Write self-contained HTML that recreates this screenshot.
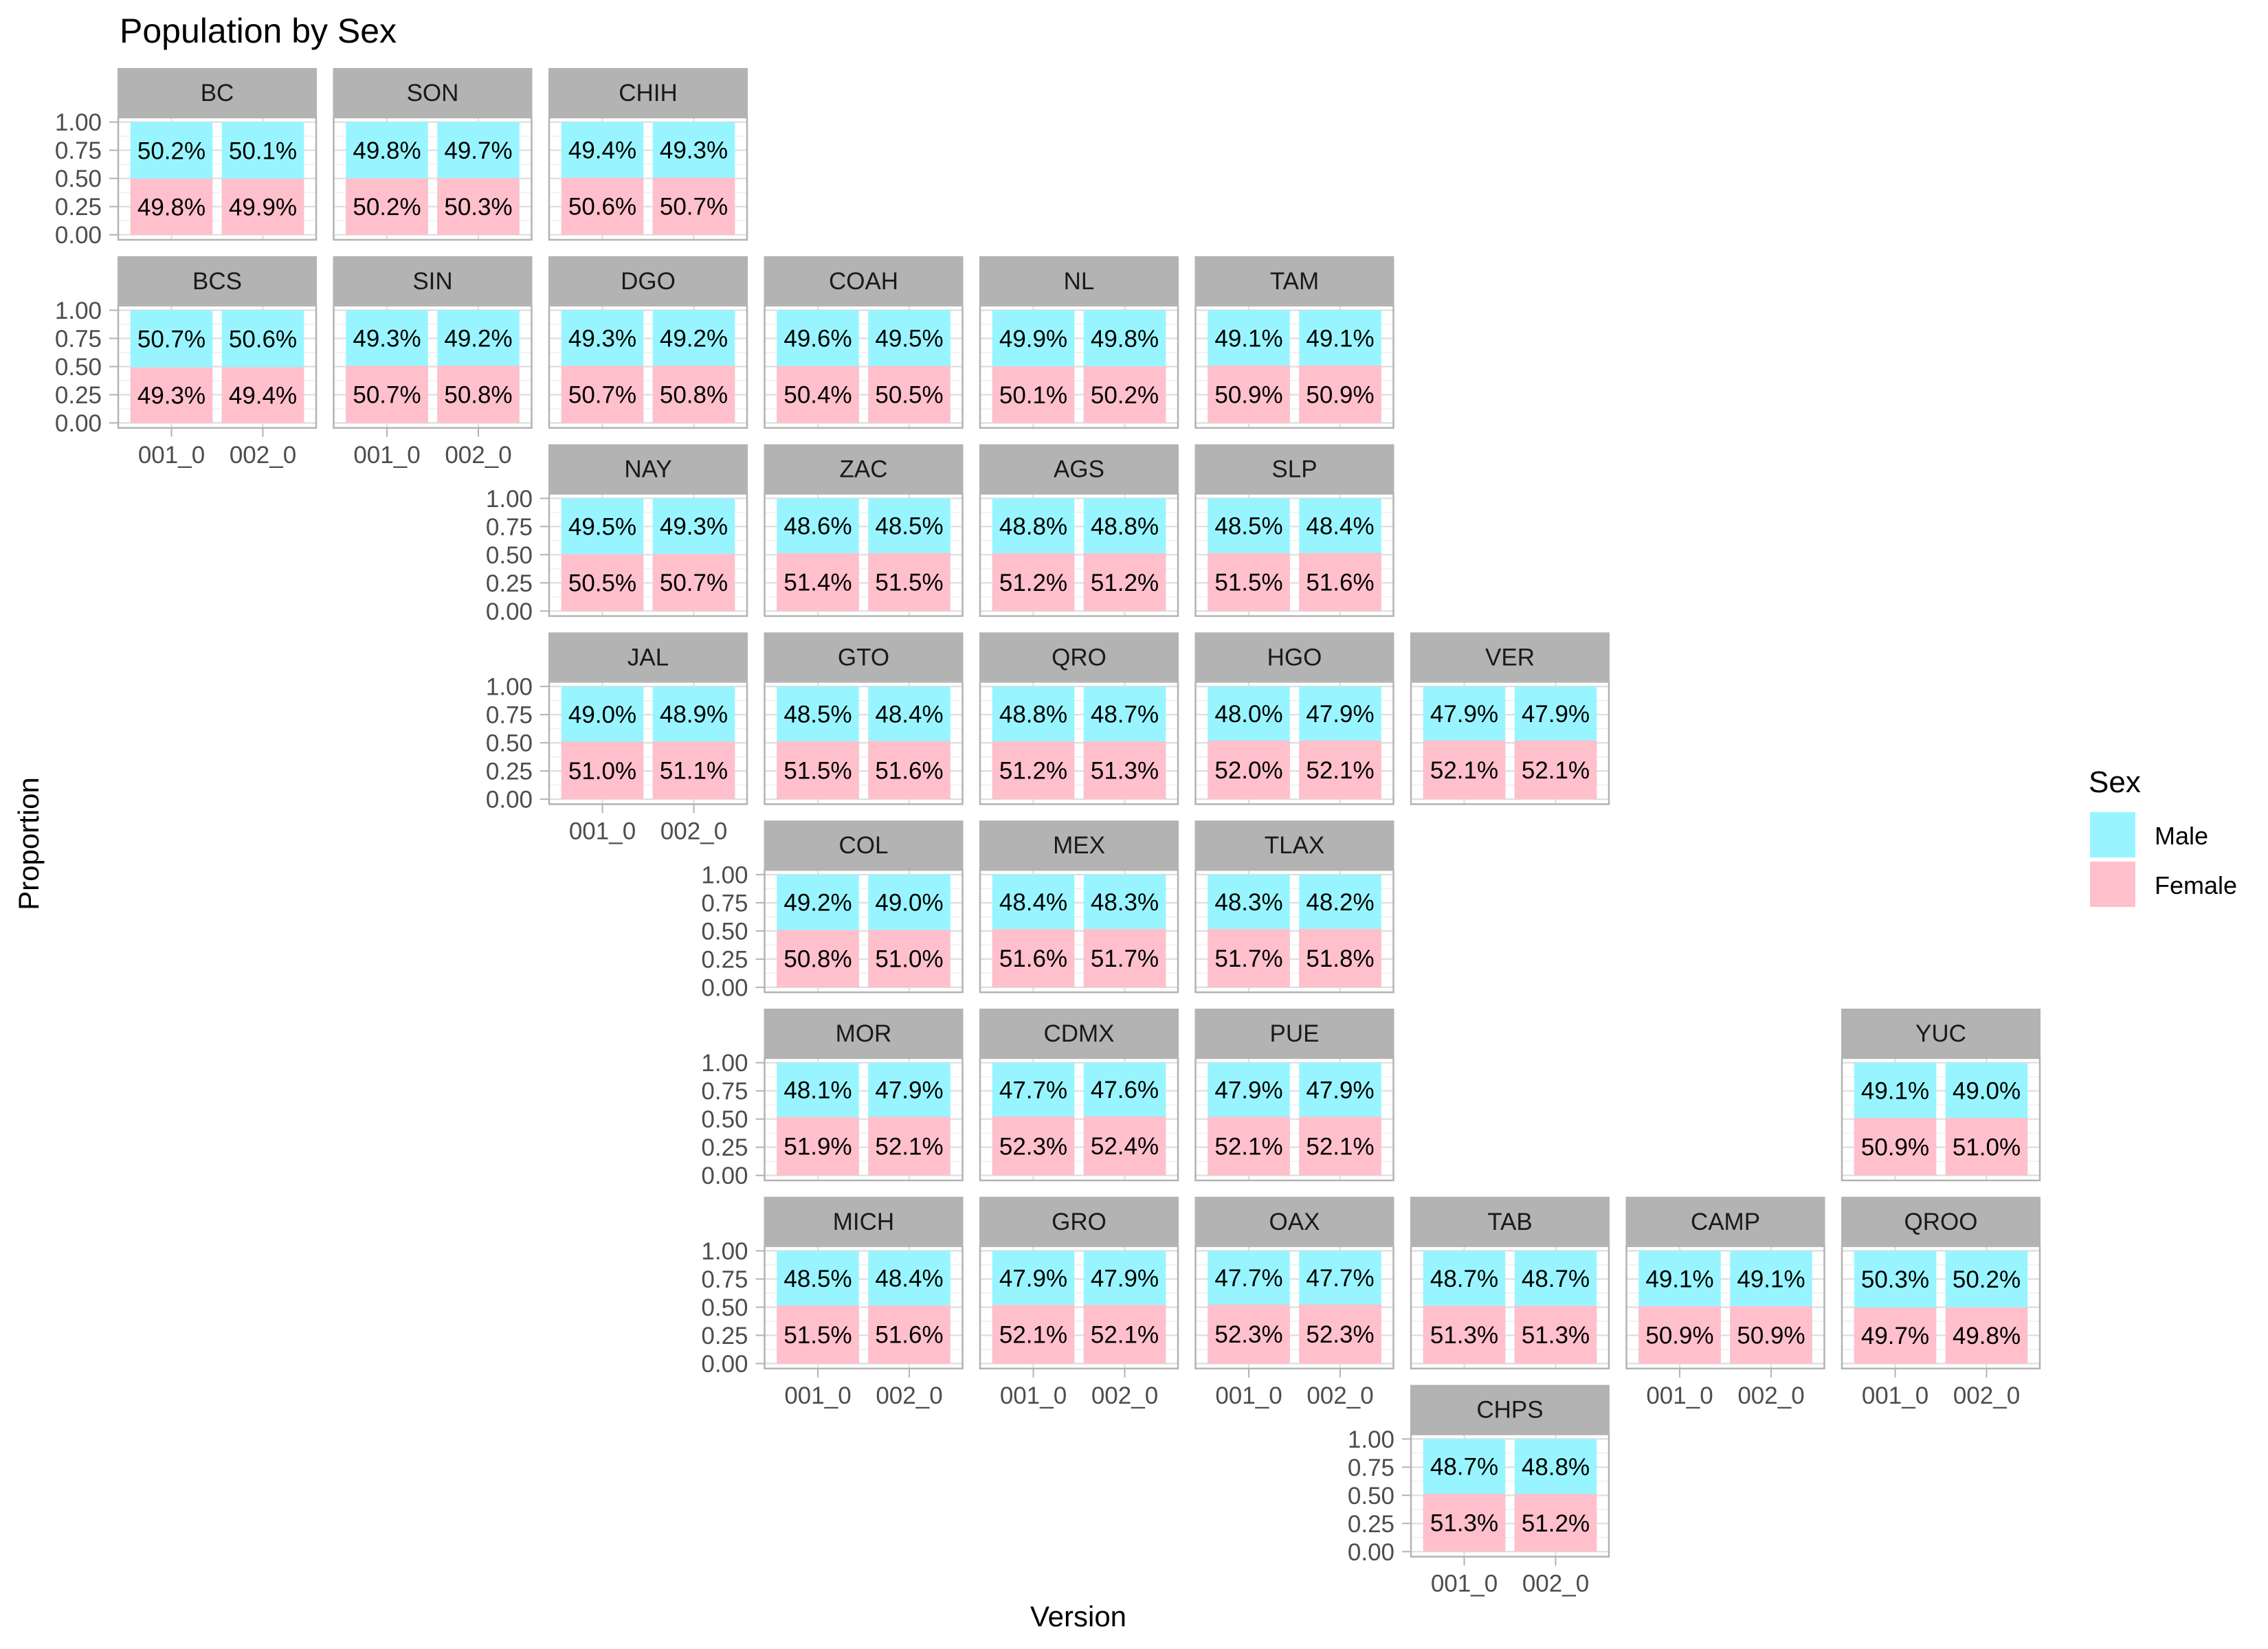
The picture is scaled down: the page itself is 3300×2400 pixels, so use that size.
<!DOCTYPE html>
<html><head><meta charset="utf-8"><style>
html,body{margin:0;padding:0;background:#fff;}
svg{display:block;font-family:"Liberation Sans",Arial,sans-serif;}
.st{font-size:35px;fill:#1a1a1a;text-anchor:middle;}
.bl{font-size:35px;fill:#000;text-anchor:middle;}
.ax{font-size:35px;fill:#4d4d4d;}
</style></head><body>
<svg width="3300" height="2400" viewBox="0 0 3300 2400" xmlns="http://www.w3.org/2000/svg">
<defs>
<g id="pg">
<rect x="0" y="0" width="290" height="71" fill="#b3b3b3"/>
<rect x="0" y="71" width="290" height="180" fill="#fff"/>
<g stroke="#ebebeb" stroke-width="1.2">
<line x1="1" x2="289" y1="222.2" y2="222.2"/><line x1="1" x2="289" y1="181.2" y2="181.2"/><line x1="1" x2="289" y1="140.2" y2="140.2"/><line x1="1" x2="289" y1="99.2" y2="99.2"/>
</g>
<g stroke="#dedede" stroke-width="2.2">
<line x1="1" x2="289" y1="242.7" y2="242.7"/><line x1="1" x2="289" y1="201.7" y2="201.7"/><line x1="1" x2="289" y1="160.7" y2="160.7"/><line x1="1" x2="289" y1="119.7" y2="119.7"/><line x1="1" x2="289" y1="78.7" y2="78.7"/>
<line x1="78.5" x2="78.5" y1="72" y2="250"/><line x1="211.5" x2="211.5" y1="72" y2="250"/>
</g>
<rect x="18.7" y="78.7" width="119.6" height="164" fill="#98F5FF"/>
<rect x="151.7" y="78.7" width="119.6" height="164" fill="#98F5FF"/>
<rect x="1" y="72" width="288" height="178" fill="none" stroke="#b3b3b3" stroke-width="2.5"/>
</g>
<g id="yt" stroke="#b3b3b3" stroke-width="2">
<line x1="-12" x2="0" y1="78.7" y2="78.7"/><line x1="-12" x2="0" y1="119.7" y2="119.7"/><line x1="-12" x2="0" y1="160.7" y2="160.7"/><line x1="-12" x2="0" y1="201.7" y2="201.7"/><line x1="-12" x2="0" y1="242.7" y2="242.7"/>
</g>
<g id="xt" stroke="#b3b3b3" stroke-width="2">
<line x1="78.5" x2="78.5" y1="251" y2="263"/><line x1="211.5" x2="211.5" y1="251" y2="263"/>
</g>
</defs>

<text x="174" y="62" font-size="50" fill="#000">Population by Sex</text>
<text transform="translate(56,1228) rotate(-90)" font-size="42" fill="#000" text-anchor="middle">Proportion</text>
<text x="1569" y="2367" font-size="42" fill="#000" text-anchor="middle">Version</text>

<text x="3039" y="1153" font-size="44" fill="#000">Sex</text>
<rect x="3041" y="1182" width="66" height="66" fill="#98F5FF"/>
<rect x="3041" y="1254" width="66" height="66" fill="#FFC0CB"/>
<text x="3135" y="1229" font-size="36" fill="#000">Male</text>
<text x="3135" y="1301" font-size="36" fill="#000">Female</text>

<!-- Y axis label groups -->
<g id="yl0" class="ax" text-anchor="end"></g>

<!-- Panels -->
<!-- BC -->
<g transform="translate(171,99)"><use href="#pg"/>
<rect x="18.7" y="161.0" width="119.6" height="81.7" fill="#FFC0CB"/><rect x="151.7" y="160.9" width="119.6" height="81.8" fill="#FFC0CB"/>
<text class="st" x="145" y="48">BC</text>
<text class="bl" x="78.5" y="132.4">50.2%</text><text class="bl" x="211.5" y="132.3">50.1%</text>
<text class="bl" x="78.5" y="214.4">49.8%</text><text class="bl" x="211.5" y="214.3">49.9%</text>
<use href="#yt"/><g class="ax" text-anchor="end"><text x="-23" y="91.2">1.00</text><text x="-23" y="132.2">0.75</text><text x="-23" y="173.2">0.50</text><text x="-23" y="214.2">0.25</text><text x="-23" y="255.2">0.00</text></g>
</g>
<!-- SON -->
<g transform="translate(484.5,99)"><use href="#pg"/>
<rect x="18.7" y="160.4" width="119.6" height="82.3" fill="#FFC0CB"/><rect x="151.7" y="160.2" width="119.6" height="82.5" fill="#FFC0CB"/>
<text class="st" x="145" y="48">SON</text>
<text class="bl" x="78.5" y="132.0">49.8%</text><text class="bl" x="211.5" y="132.0">49.7%</text>
<text class="bl" x="78.5" y="214.0">50.2%</text><text class="bl" x="211.5" y="214.0">50.3%</text>
</g>
<!-- CHIH -->
<g transform="translate(798,99)"><use href="#pg"/>
<rect x="18.7" y="159.7" width="119.6" height="83.0" fill="#FFC0CB"/><rect x="151.7" y="159.6" width="119.6" height="83.1" fill="#FFC0CB"/>
<text class="st" x="145" y="48">CHIH</text>
<text class="bl" x="78.5" y="131.7">49.4%</text><text class="bl" x="211.5" y="131.6">49.3%</text>
<text class="bl" x="78.5" y="213.7">50.6%</text><text class="bl" x="211.5" y="213.6">50.7%</text>
</g>

<!-- Row 1 -->
<!-- BCS -->
<g transform="translate(171,372.8)"><use href="#pg"/>
<rect x="18.7" y="161.9" width="119.6" height="80.8" fill="#FFC0CB"/><rect x="151.7" y="161.7" width="119.6" height="81.0" fill="#FFC0CB"/>
<text class="st" x="145" y="48">BCS</text>
<text class="bl" x="78.5" y="132.8">50.7%</text><text class="bl" x="211.5" y="132.7">50.6%</text>
<text class="bl" x="78.5" y="214.8">49.3%</text><text class="bl" x="211.5" y="214.7">49.4%</text>
<use href="#yt"/><g class="ax" text-anchor="end"><text x="-23" y="91.2">1.00</text><text x="-23" y="132.2">0.75</text><text x="-23" y="173.2">0.50</text><text x="-23" y="214.2">0.25</text><text x="-23" y="255.2">0.00</text></g>
<use href="#xt"/><g class="ax" text-anchor="middle"><text x="78.5" y="301">001_0</text><text x="211.5" y="301">002_0</text></g>
</g>
<!-- SIN -->
<g transform="translate(484.5,372.8)"><use href="#pg"/>
<rect x="18.7" y="159.6" width="119.6" height="83.1" fill="#FFC0CB"/><rect x="151.7" y="159.4" width="119.6" height="83.3" fill="#FFC0CB"/>
<text class="st" x="145" y="48">SIN</text>
<text class="bl" x="78.5" y="131.6">49.3%</text><text class="bl" x="211.5" y="131.5">49.2%</text>
<text class="bl" x="78.5" y="213.6">50.7%</text><text class="bl" x="211.5" y="213.5">50.8%</text>
<use href="#xt"/><g class="ax" text-anchor="middle"><text x="78.5" y="301">001_0</text><text x="211.5" y="301">002_0</text></g>
</g>
<!-- DGO -->
<g transform="translate(798,372.8)"><use href="#pg"/>
<rect x="18.7" y="159.6" width="119.6" height="83.1" fill="#FFC0CB"/><rect x="151.7" y="159.4" width="119.6" height="83.3" fill="#FFC0CB"/>
<text class="st" x="145" y="48">DGO</text>
<text class="bl" x="78.5" y="131.6">49.3%</text><text class="bl" x="211.5" y="131.5">49.2%</text>
<text class="bl" x="78.5" y="213.6">50.7%</text><text class="bl" x="211.5" y="213.5">50.8%</text>
</g>
<!-- COAH -->
<g transform="translate(1111.5,372.8)"><use href="#pg"/>
<rect x="18.7" y="160.0" width="119.6" height="82.7" fill="#FFC0CB"/><rect x="151.7" y="159.9" width="119.6" height="82.8" fill="#FFC0CB"/>
<text class="st" x="145" y="48">COAH</text>
<text class="bl" x="78.5" y="131.9">49.6%</text><text class="bl" x="211.5" y="131.8">49.5%</text>
<text class="bl" x="78.5" y="213.9">50.4%</text><text class="bl" x="211.5" y="213.8">50.5%</text>
</g>
<!-- NL -->
<g transform="translate(1425,372.8)"><use href="#pg"/>
<rect x="18.7" y="160.5" width="119.6" height="82.2" fill="#FFC0CB"/><rect x="151.7" y="160.4" width="119.6" height="82.3" fill="#FFC0CB"/>
<text class="st" x="145" y="48">NL</text>
<text class="bl" x="78.5" y="132.1">49.9%</text><text class="bl" x="211.5" y="132.0">49.8%</text>
<text class="bl" x="78.5" y="214.1">50.1%</text><text class="bl" x="211.5" y="214.0">50.2%</text>
</g>
<!-- TAM -->
<g transform="translate(1738.5,372.8)"><use href="#pg"/>
<rect x="18.7" y="159.2" width="119.6" height="83.5" fill="#FFC0CB"/><rect x="151.7" y="159.2" width="119.6" height="83.5" fill="#FFC0CB"/>
<text class="st" x="145" y="48">TAM</text>
<text class="bl" x="78.5" y="131.5">49.1%</text><text class="bl" x="211.5" y="131.5">49.1%</text>
<text class="bl" x="78.5" y="213.5">50.9%</text><text class="bl" x="211.5" y="213.5">50.9%</text>
</g>

<!-- Row 2 -->
<!-- NAY -->
<g transform="translate(798,646.6)"><use href="#pg"/>
<rect x="18.7" y="159.9" width="119.6" height="82.8" fill="#FFC0CB"/><rect x="151.7" y="159.6" width="119.6" height="83.1" fill="#FFC0CB"/>
<text class="st" x="145" y="48">NAY</text>
<text class="bl" x="78.5" y="131.8">49.5%</text><text class="bl" x="211.5" y="131.6">49.3%</text>
<text class="bl" x="78.5" y="213.8">50.5%</text><text class="bl" x="211.5" y="213.6">50.7%</text>
<use href="#yt"/><g class="ax" text-anchor="end"><text x="-23" y="91.2">1.00</text><text x="-23" y="132.2">0.75</text><text x="-23" y="173.2">0.50</text><text x="-23" y="214.2">0.25</text><text x="-23" y="255.2">0.00</text></g>
</g>
<!-- ZAC -->
<g transform="translate(1111.5,646.6)"><use href="#pg"/>
<rect x="18.7" y="158.4" width="119.6" height="84.3" fill="#FFC0CB"/><rect x="151.7" y="158.2" width="119.6" height="84.5" fill="#FFC0CB"/>
<text class="st" x="145" y="48">ZAC</text>
<text class="bl" x="78.5" y="131.1">48.6%</text><text class="bl" x="211.5" y="131.0">48.5%</text>
<text class="bl" x="78.5" y="213.1">51.4%</text><text class="bl" x="211.5" y="213.0">51.5%</text>
</g>
<!-- AGS -->
<g transform="translate(1425,646.6)"><use href="#pg"/>
<rect x="18.7" y="158.7" width="119.6" height="84.0" fill="#FFC0CB"/><rect x="151.7" y="158.7" width="119.6" height="84.0" fill="#FFC0CB"/>
<text class="st" x="145" y="48">AGS</text>
<text class="bl" x="78.5" y="131.2">48.8%</text><text class="bl" x="211.5" y="131.2">48.8%</text>
<text class="bl" x="78.5" y="213.2">51.2%</text><text class="bl" x="211.5" y="213.2">51.2%</text>
</g>
<!-- SLP -->
<g transform="translate(1738.5,646.6)"><use href="#pg"/>
<rect x="18.7" y="158.2" width="119.6" height="84.5" fill="#FFC0CB"/><rect x="151.7" y="158.1" width="119.6" height="84.6" fill="#FFC0CB"/>
<text class="st" x="145" y="48">SLP</text>
<text class="bl" x="78.5" y="131.0">48.5%</text><text class="bl" x="211.5" y="130.9">48.4%</text>
<text class="bl" x="78.5" y="213.0">51.5%</text><text class="bl" x="211.5" y="212.9">51.6%</text>
</g>

<!-- Row 3 -->
<!-- JAL -->
<g transform="translate(798,920.4)"><use href="#pg"/>
<rect x="18.7" y="159.1" width="119.6" height="83.6" fill="#FFC0CB"/><rect x="151.7" y="158.9" width="119.6" height="83.8" fill="#FFC0CB"/>
<text class="st" x="145" y="48">JAL</text>
<text class="bl" x="78.5" y="131.4">49.0%</text><text class="bl" x="211.5" y="131.3">48.9%</text>
<text class="bl" x="78.5" y="213.4">51.0%</text><text class="bl" x="211.5" y="213.3">51.1%</text>
<use href="#yt"/><g class="ax" text-anchor="end"><text x="-23" y="91.2">1.00</text><text x="-23" y="132.2">0.75</text><text x="-23" y="173.2">0.50</text><text x="-23" y="214.2">0.25</text><text x="-23" y="255.2">0.00</text></g>
<use href="#xt"/><g class="ax" text-anchor="middle"><text x="78.5" y="301">001_0</text><text x="211.5" y="301">002_0</text></g>
</g>
<!-- GTO -->
<g transform="translate(1111.5,920.4)"><use href="#pg"/>
<rect x="18.7" y="158.2" width="119.6" height="84.5" fill="#FFC0CB"/><rect x="151.7" y="158.1" width="119.6" height="84.6" fill="#FFC0CB"/>
<text class="st" x="145" y="48">GTO</text>
<text class="bl" x="78.5" y="131.0">48.5%</text><text class="bl" x="211.5" y="130.9">48.4%</text>
<text class="bl" x="78.5" y="213.0">51.5%</text><text class="bl" x="211.5" y="212.9">51.6%</text>
</g>
<!-- QRO -->
<g transform="translate(1425,920.4)"><use href="#pg"/>
<rect x="18.7" y="158.7" width="119.6" height="84.0" fill="#FFC0CB"/><rect x="151.7" y="158.6" width="119.6" height="84.1" fill="#FFC0CB"/>
<text class="st" x="145" y="48">QRO</text>
<text class="bl" x="78.5" y="131.2">48.8%</text><text class="bl" x="211.5" y="131.1">48.7%</text>
<text class="bl" x="78.5" y="213.2">51.2%</text><text class="bl" x="211.5" y="213.1">51.3%</text>
</g>
<!-- HGO -->
<g transform="translate(1738.5,920.4)"><use href="#pg"/>
<rect x="18.7" y="157.4" width="119.6" height="85.3" fill="#FFC0CB"/><rect x="151.7" y="157.3" width="119.6" height="85.4" fill="#FFC0CB"/>
<text class="st" x="145" y="48">HGO</text>
<text class="bl" x="78.5" y="130.6">48.0%</text><text class="bl" x="211.5" y="130.5">47.9%</text>
<text class="bl" x="78.5" y="212.6">52.0%</text><text class="bl" x="211.5" y="212.5">52.1%</text>
</g>
<!-- VER -->
<g transform="translate(2052,920.4)"><use href="#pg"/>
<rect x="18.7" y="157.3" width="119.6" height="85.4" fill="#FFC0CB"/><rect x="151.7" y="157.3" width="119.6" height="85.4" fill="#FFC0CB"/>
<text class="st" x="145" y="48">VER</text>
<text class="bl" x="78.5" y="130.5">47.9%</text><text class="bl" x="211.5" y="130.5">47.9%</text>
<text class="bl" x="78.5" y="212.5">52.1%</text><text class="bl" x="211.5" y="212.5">52.1%</text>
</g>

<!-- Row 4 -->
<!-- COL -->
<g transform="translate(1111.5,1194.2)"><use href="#pg"/>
<rect x="18.7" y="159.4" width="119.6" height="83.3" fill="#FFC0CB"/><rect x="151.7" y="159.1" width="119.6" height="83.6" fill="#FFC0CB"/>
<text class="st" x="145" y="48">COL</text>
<text class="bl" x="78.5" y="131.5">49.2%</text><text class="bl" x="211.5" y="131.4">49.0%</text>
<text class="bl" x="78.5" y="213.5">50.8%</text><text class="bl" x="211.5" y="213.4">51.0%</text>
<use href="#yt"/><g class="ax" text-anchor="end"><text x="-23" y="91.2">1.00</text><text x="-23" y="132.2">0.75</text><text x="-23" y="173.2">0.50</text><text x="-23" y="214.2">0.25</text><text x="-23" y="255.2">0.00</text></g>
</g>
<!-- MEX -->
<g transform="translate(1425,1194.2)"><use href="#pg"/>
<rect x="18.7" y="158.1" width="119.6" height="84.6" fill="#FFC0CB"/><rect x="151.7" y="157.9" width="119.6" height="84.8" fill="#FFC0CB"/>
<text class="st" x="145" y="48">MEX</text>
<text class="bl" x="78.5" y="130.9">48.4%</text><text class="bl" x="211.5" y="130.8">48.3%</text>
<text class="bl" x="78.5" y="212.9">51.6%</text><text class="bl" x="211.5" y="212.8">51.7%</text>
</g>
<!-- TLAX -->
<g transform="translate(1738.5,1194.2)"><use href="#pg"/>
<rect x="18.7" y="157.9" width="119.6" height="84.8" fill="#FFC0CB"/><rect x="151.7" y="157.7" width="119.6" height="85.0" fill="#FFC0CB"/>
<text class="st" x="145" y="48">TLAX</text>
<text class="bl" x="78.5" y="130.8">48.3%</text><text class="bl" x="211.5" y="130.7">48.2%</text>
<text class="bl" x="78.5" y="212.8">51.7%</text><text class="bl" x="211.5" y="212.7">51.8%</text>
</g>

<!-- Row 5 -->
<!-- MOR -->
<g transform="translate(1111.5,1468)"><use href="#pg"/>
<rect x="18.7" y="157.6" width="119.6" height="85.1" fill="#FFC0CB"/><rect x="151.7" y="157.3" width="119.6" height="85.4" fill="#FFC0CB"/>
<text class="st" x="145" y="48">MOR</text>
<text class="bl" x="78.5" y="130.6">48.1%</text><text class="bl" x="211.5" y="130.5">47.9%</text>
<text class="bl" x="78.5" y="212.6">51.9%</text><text class="bl" x="211.5" y="212.5">52.1%</text>
<use href="#yt"/><g class="ax" text-anchor="end"><text x="-23" y="91.2">1.00</text><text x="-23" y="132.2">0.75</text><text x="-23" y="173.2">0.50</text><text x="-23" y="214.2">0.25</text><text x="-23" y="255.2">0.00</text></g>
</g>
<!-- CDMX -->
<g transform="translate(1425,1468)"><use href="#pg"/>
<rect x="18.7" y="156.9" width="119.6" height="85.8" fill="#FFC0CB"/><rect x="151.7" y="156.8" width="119.6" height="85.9" fill="#FFC0CB"/>
<text class="st" x="145" y="48">CDMX</text>
<text class="bl" x="78.5" y="130.3">47.7%</text><text class="bl" x="211.5" y="130.2">47.6%</text>
<text class="bl" x="78.5" y="212.3">52.3%</text><text class="bl" x="211.5" y="212.2">52.4%</text>
</g>
<!-- PUE -->
<g transform="translate(1738.5,1468)"><use href="#pg"/>
<rect x="18.7" y="157.3" width="119.6" height="85.4" fill="#FFC0CB"/><rect x="151.7" y="157.3" width="119.6" height="85.4" fill="#FFC0CB"/>
<text class="st" x="145" y="48">PUE</text>
<text class="bl" x="78.5" y="130.5">47.9%</text><text class="bl" x="211.5" y="130.5">47.9%</text>
<text class="bl" x="78.5" y="212.5">52.1%</text><text class="bl" x="211.5" y="212.5">52.1%</text>
</g>
<!-- YUC -->
<g transform="translate(2679,1468)"><use href="#pg"/>
<rect x="18.7" y="159.2" width="119.6" height="83.5" fill="#FFC0CB"/><rect x="151.7" y="159.1" width="119.6" height="83.6" fill="#FFC0CB"/>
<text class="st" x="145" y="48">YUC</text>
<text class="bl" x="78.5" y="131.5">49.1%</text><text class="bl" x="211.5" y="131.4">49.0%</text>
<text class="bl" x="78.5" y="213.5">50.9%</text><text class="bl" x="211.5" y="213.4">51.0%</text>
</g>

<!-- Row 6 -->
<!-- MICH -->
<g transform="translate(1111.5,1741.8)"><use href="#pg"/>
<rect x="18.7" y="158.2" width="119.6" height="84.5" fill="#FFC0CB"/><rect x="151.7" y="158.1" width="119.6" height="84.6" fill="#FFC0CB"/>
<text class="st" x="145" y="48">MICH</text>
<text class="bl" x="78.5" y="131.0">48.5%</text><text class="bl" x="211.5" y="130.9">48.4%</text>
<text class="bl" x="78.5" y="213.0">51.5%</text><text class="bl" x="211.5" y="212.9">51.6%</text>
<use href="#yt"/><g class="ax" text-anchor="end"><text x="-23" y="91.2">1.00</text><text x="-23" y="132.2">0.75</text><text x="-23" y="173.2">0.50</text><text x="-23" y="214.2">0.25</text><text x="-23" y="255.2">0.00</text></g>
<use href="#xt"/><g class="ax" text-anchor="middle"><text x="78.5" y="301">001_0</text><text x="211.5" y="301">002_0</text></g>
</g>
<!-- GRO -->
<g transform="translate(1425,1741.8)"><use href="#pg"/>
<rect x="18.7" y="157.3" width="119.6" height="85.4" fill="#FFC0CB"/><rect x="151.7" y="157.3" width="119.6" height="85.4" fill="#FFC0CB"/>
<text class="st" x="145" y="48">GRO</text>
<text class="bl" x="78.5" y="130.5">47.9%</text><text class="bl" x="211.5" y="130.5">47.9%</text>
<text class="bl" x="78.5" y="212.5">52.1%</text><text class="bl" x="211.5" y="212.5">52.1%</text>
<use href="#xt"/><g class="ax" text-anchor="middle"><text x="78.5" y="301">001_0</text><text x="211.5" y="301">002_0</text></g>
</g>
<!-- OAX -->
<g transform="translate(1738.5,1741.8)"><use href="#pg"/>
<rect x="18.7" y="156.9" width="119.6" height="85.8" fill="#FFC0CB"/><rect x="151.7" y="156.9" width="119.6" height="85.8" fill="#FFC0CB"/>
<text class="st" x="145" y="48">OAX</text>
<text class="bl" x="78.5" y="130.3">47.7%</text><text class="bl" x="211.5" y="130.3">47.7%</text>
<text class="bl" x="78.5" y="212.3">52.3%</text><text class="bl" x="211.5" y="212.3">52.3%</text>
<use href="#xt"/><g class="ax" text-anchor="middle"><text x="78.5" y="301">001_0</text><text x="211.5" y="301">002_0</text></g>
</g>
<!-- TAB -->
<g transform="translate(2052,1741.8)"><use href="#pg"/>
<rect x="18.7" y="158.6" width="119.6" height="84.1" fill="#FFC0CB"/><rect x="151.7" y="158.6" width="119.6" height="84.1" fill="#FFC0CB"/>
<text class="st" x="145" y="48">TAB</text>
<text class="bl" x="78.5" y="131.1">48.7%</text><text class="bl" x="211.5" y="131.1">48.7%</text>
<text class="bl" x="78.5" y="213.1">51.3%</text><text class="bl" x="211.5" y="213.1">51.3%</text>
</g>
<!-- CAMP -->
<g transform="translate(2365.5,1741.8)"><use href="#pg"/>
<rect x="18.7" y="159.2" width="119.6" height="83.5" fill="#FFC0CB"/><rect x="151.7" y="159.2" width="119.6" height="83.5" fill="#FFC0CB"/>
<text class="st" x="145" y="48">CAMP</text>
<text class="bl" x="78.5" y="131.5">49.1%</text><text class="bl" x="211.5" y="131.5">49.1%</text>
<text class="bl" x="78.5" y="213.5">50.9%</text><text class="bl" x="211.5" y="213.5">50.9%</text>
<use href="#xt"/><g class="ax" text-anchor="middle"><text x="78.5" y="301">001_0</text><text x="211.5" y="301">002_0</text></g>
</g>
<!-- QROO -->
<g transform="translate(2679,1741.8)"><use href="#pg"/>
<rect x="18.7" y="161.2" width="119.6" height="81.5" fill="#FFC0CB"/><rect x="151.7" y="161.0" width="119.6" height="81.7" fill="#FFC0CB"/>
<text class="st" x="145" y="48">QROO</text>
<text class="bl" x="78.5" y="132.4">50.3%</text><text class="bl" x="211.5" y="132.4">50.2%</text>
<text class="bl" x="78.5" y="214.4">49.7%</text><text class="bl" x="211.5" y="214.4">49.8%</text>
<use href="#xt"/><g class="ax" text-anchor="middle"><text x="78.5" y="301">001_0</text><text x="211.5" y="301">002_0</text></g>
</g>

<!-- Row 7 -->
<!-- CHPS -->
<g transform="translate(2052,2015.6)"><use href="#pg"/>
<rect x="18.7" y="158.6" width="119.6" height="84.1" fill="#FFC0CB"/><rect x="151.7" y="158.7" width="119.6" height="84.0" fill="#FFC0CB"/>
<text class="st" x="145" y="48">CHPS</text>
<text class="bl" x="78.5" y="131.1">48.7%</text><text class="bl" x="211.5" y="131.2">48.8%</text>
<text class="bl" x="78.5" y="213.1">51.3%</text><text class="bl" x="211.5" y="213.2">51.2%</text>
<use href="#yt"/><g class="ax" text-anchor="end"><text x="-23" y="91.2">1.00</text><text x="-23" y="132.2">0.75</text><text x="-23" y="173.2">0.50</text><text x="-23" y="214.2">0.25</text><text x="-23" y="255.2">0.00</text></g>
<use href="#xt"/><g class="ax" text-anchor="middle"><text x="78.5" y="301">001_0</text><text x="211.5" y="301">002_0</text></g>
</g>
</svg>
</body></html>
